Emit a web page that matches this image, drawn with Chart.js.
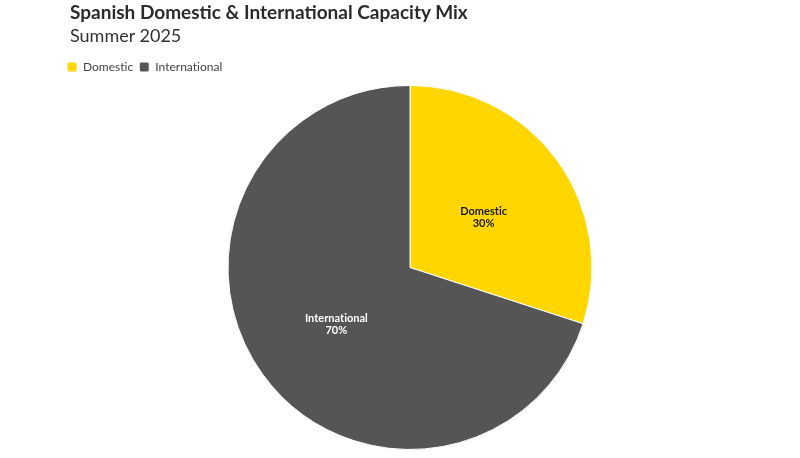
<!DOCTYPE html>
<html>
<head>
<meta charset="utf-8">
<script src="https://cdn.jsdelivr.net/npm/chart.js@4"></script>
<style>
  html, body { margin: 0; padding: 0; background: #fff; }
  #wrap { position: relative; width: 800px; height: 458px; overflow: hidden; }
  #titulo, #subtitulo { position: absolute; left: 70px; white-space: nowrap; font-variant-ligatures: none; line-height: 24px; }
  #titulo { top: 0px; font: bold 19px Lato, sans-serif; color: #2b2b2b; }
  #subtitulo { top: 24px; font: 18px Lato, sans-serif; color: #333; }
  canvas { position: absolute; left: 0; top: 0; }
</style>
</head>
<body>
<div id="wrap">
  <canvas id="capacidadeChart" width="800" height="458"></canvas>
  <div id="titulo">Spanish Domestic &amp; International Capacity Mix</div>
  <div id="subtitulo">Summer 2025</div>
</div>
<script>
const categorias = ['Domestic', 'International'];
const percentuais = [30, 70];
const cores = ['#FFD600', '#555555'];
const coresRotulo = ['#1a1a1a', '#ffffff'];

// sem ligaduras (o "ti" do Lato) no texto do canvas
const semLigaduras = {
    id: 'semLigaduras',
    beforeDraw(chart) {
        chart.ctx.letterSpacing = '0.01px';
    }
};

// rótulos dentro das fatias (nome + percentual)
const rotulosFatias = {
    id: 'rotulosFatias',
    afterDatasetsDraw(chart) {
        const ctx = chart.ctx;
        const meta = chart.getDatasetMeta(0);
        ctx.save();
        ctx.font = 'bold 11px Lato, sans-serif';
        ctx.textAlign = 'center';
        ctx.textBaseline = 'middle';
        meta.data.forEach((arc, i) => {
            const pos = arc.tooltipPosition();
            ctx.fillStyle = coresRotulo[i];
            ctx.fillText(categorias[i], pos.x, pos.y - 3);
            ctx.fillText(percentuais[i] + '%', pos.x, pos.y + 9);
        });
        ctx.restore();
    }
};

const ctx = document.getElementById('capacidadeChart').getContext('2d');
new Chart(ctx, {
    type: 'pie',
    data: {
        labels: categorias,
        datasets: [{
            data: percentuais,
            backgroundColor: cores,
            borderColor: '#ffffff',
            borderWidth: 1
        }]
    },
    options: {
        responsive: false,
        animation: false,
        radius: 182,
        layout: { padding: { top: 55, left: 61, right: 41, bottom: 6 } },
        plugins: {
            legend: {
                position: 'top',
                align: 'start',
                labels: {
                    boxWidth: 10,
                    boxHeight: 10,
                    padding: 6,
                    useBorderRadius: true,
                    borderRadius: 2,
                    color: '#444',
                    font: { family: 'Lato, sans-serif', size: 12 }
                }
            },
            tooltip: { enabled: false }
        }
    },
    plugins: [semLigaduras, rotulosFatias]
});
</script>
</body>
</html>
